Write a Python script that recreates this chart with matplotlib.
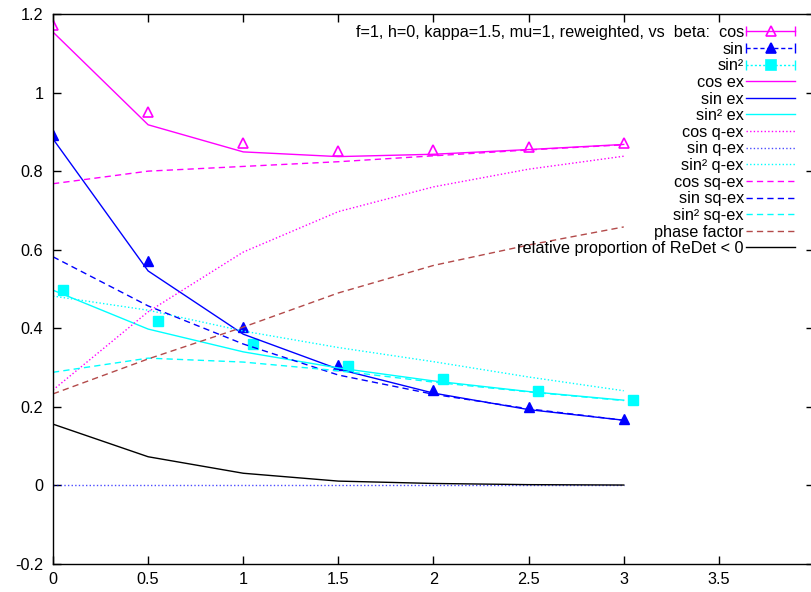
import matplotlib
matplotlib.use('Agg')
import matplotlib.pyplot as plt
from matplotlib.lines import Line2D
from matplotlib.legend_handler import HandlerLine2D, HandlerTuple
from matplotlib.ticker import FormatStrFormatter

plt.rcParams['font.family'] = ['Liberation Sans', 'DejaVu Sans']
plt.rcParams['font.size'] = 11.7

# beta values (sin^2 points are shifted by 0.05 in the original)
beta = [0, 0.5, 1, 1.5, 2, 2.5, 3]
beta_shift = [0.05, 0.55, 1.05, 1.55, 2.05, 2.55, 3.05]

# measured (reweighted) values
cos_mc = [1.172, 0.950, 0.872, 0.852, 0.854, 0.862, 0.871]
sin_mc = [0.893, 0.571, 0.403, 0.306, 0.243, 0.199, 0.169]
sin2_mc = [0.497, 0.418, 0.360, 0.305, 0.271, 0.241, 0.218]

# exact
cos_ex = [1.154, 0.918, 0.849, 0.837, 0.843, 0.855, 0.868]
sin_ex = [0.882, 0.546, 0.385, 0.296, 0.235, 0.193, 0.166]
sin2_ex = [0.497, 0.398, 0.340, 0.299, 0.266, 0.239, 0.217]

# q-ex
cos_qex = [0.243, 0.442, 0.594, 0.697, 0.760, 0.805, 0.838]
sin_qex = [0, 0, 0, 0, 0, 0, 0]
sin2_qex = [0.482, 0.446, 0.393, 0.351, 0.315, 0.276, 0.241]

# sq-ex
cos_sqex = [0.768, 0.800, 0.812, 0.824, 0.839, 0.854, 0.867]
sin_sqex = [0.582, 0.457, 0.360, 0.281, 0.232, 0.195, 0.166]
sin2_sqex = [0.288, 0.324, 0.314, 0.292, 0.263, 0.238, 0.216]

phase = [0.233, 0.322, 0.403, 0.490, 0.560, 0.612, 0.658]
neg_frac = [0.156, 0.073, 0.031, 0.011, 0.005, 0.002, 0.001]

xticks = [0, 0.5, 1, 1.5, 2, 2.5, 3, 3.5]
yticks = [-0.2, 0, 0.2, 0.4, 0.6, 0.8, 1, 1.2]

MAG = '#ff00ff'
BLU = '#0000ff'
CYA = '#00ffff'
BRN = '#b34a4a'

DOT = (0, (1, 1.6))
DASH = (0, (4.5, 3))

fig = plt.figure(figsize=(8.12, 5.92), dpi=100)
ax = fig.add_axes([53/812, 28/592, (814-53)/812, 550/592])

lw = 1.0
# data points
ax.plot(beta, cos_mc, ls='none', marker='^', ms=7, mfc='none', mec=MAG, mew=1.2)
ax.plot(beta, sin_mc, ls='none', marker='^', ms=6.5, color=BLU)
ax.plot(beta_shift, sin2_mc, ls='none', marker='s', ms=7, color=CYA)

ax.plot(beta, cos_ex, color=MAG, lw=lw)
ax.plot(beta, sin_ex, color=BLU, lw=lw)
ax.plot(beta, sin2_ex, color=CYA, lw=lw)

ax.plot(beta, cos_qex, color=MAG, lw=lw, ls=DOT)
ax.plot(beta, sin_qex, color=BLU, lw=lw, ls=DOT, alpha=0.7)
ax.plot(beta, sin2_qex, color=CYA, lw=lw, ls=DOT)

ax.plot(beta, cos_sqex, color=MAG, lw=lw, ls=DASH)
ax.plot(beta, sin_sqex, color=BLU, lw=lw, ls=DASH)
ax.plot(beta, sin2_sqex, color=CYA, lw=lw, ls=DASH)

ax.plot(beta, phase, color=BRN, lw=lw, ls=DASH)
ax.plot(beta, neg_frac, color='black', lw=lw)

ax.set_xlim(0, 4)
ax.set_ylim(-0.2, 1.2)
ax.set_xticks(xticks)
ax.set_yticks(yticks)
ax.xaxis.set_major_formatter(FormatStrFormatter('%g'))
ax.yaxis.set_major_formatter(FormatStrFormatter('%g'))
ax.tick_params(direction='in', top=True, right=True, length=6, width=1)
ax.tick_params(axis='x', pad=6)
ax.tick_params(axis='y', pad=7)
for s in ax.spines.values():
    s.set_linewidth(1.0)

# legend: error-bar style keys for the data sets
handler_map = {}
def errkey(color, ls, marker, mfc, ms):
    cap = Line2D([], [], color=color, ls=ls, lw=lw, marker='|', ms=7, mew=1)
    pt = Line2D([], [], ls='none', marker=marker, ms=ms, mfc=mfc, mec=color, mew=1.2)
    handler_map[cap] = HandlerLine2D(numpoints=2, marker_pad=0)
    return (cap, pt)

handles = [
    errkey(MAG, '-', '^', 'none', 7),
    errkey(BLU, (0, (3, 2)), '^', BLU, 6.5),
    errkey(CYA, (0, (1.5, 1.5)), 's', CYA, 7),
    Line2D([], [], color=MAG, lw=lw),
    Line2D([], [], color=BLU, lw=lw),
    Line2D([], [], color=CYA, lw=lw),
    Line2D([], [], color=MAG, lw=lw, ls=DOT),
    Line2D([], [], color=BLU, lw=lw, ls=DOT, alpha=0.7),
    Line2D([], [], color=CYA, lw=lw, ls=DOT),
    Line2D([], [], color=MAG, lw=lw, ls=DASH),
    Line2D([], [], color=BLU, lw=lw, ls=DASH),
    Line2D([], [], color=CYA, lw=lw, ls=DASH),
    Line2D([], [], color=BRN, lw=lw, ls=DASH),
    Line2D([], [], color='black', lw=lw),
]
labels = [
    'f=1, h=0, kappa=1.5, mu=1, reweighted, vs  beta:  cos',
    'sin', 'sin²',
    'cos ex', 'sin ex', 'sin² ex',
    'cos q-ex', 'sin q-ex', 'sin² q-ex',
    'cos sq-ex', 'sin sq-ex', 'sin² sq-ex',
    'phase factor', 'relative proportion of ReDet < 0',
]
handler_map[tuple] = HandlerTuple(ndivide=1)
ax.legend(handles, labels, handler_map=handler_map, loc='upper right',
          bbox_to_anchor=(795/812, 1 - 25/592), bbox_transform=fig.transFigure,
          frameon=False, markerfirst=False, numpoints=1, handlelength=3.0,
          handletextpad=0.15, borderpad=0, borderaxespad=0, labelspacing=0.1)

fig.savefig('out.png', dpi=100)
